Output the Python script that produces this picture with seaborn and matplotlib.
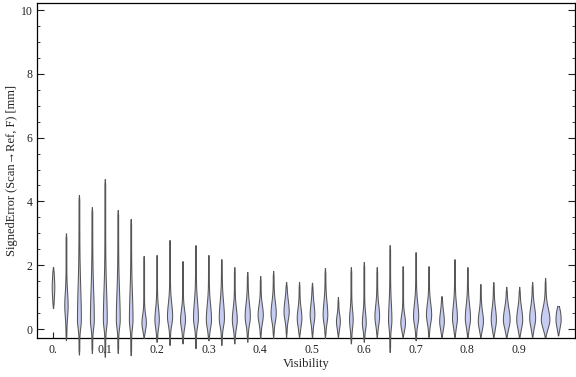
import numpy as np
import matplotlib
matplotlib.use("Agg")
import matplotlib.pyplot as plt
import seaborn as sns

# ---- data (one violin per visibility bin) ----
visibility = [round(0.025 * i, 3) for i in range(40)]
lows = [0.66, -0.35, -0.80, -0.75, -0.87, -0.75, -0.82, -0.28, -0.40, -0.50,
        -0.45, -0.60, -0.35, -0.50, -0.45, -0.40, -0.28, -0.28, -0.25, -0.25,
        -0.25, -0.28, -0.25, -0.45, -0.40, -0.25, -0.72, -0.25, -0.35, -0.25,
        -0.25, -0.25, -0.25, -0.25, -0.25, -0.25, -0.25, -0.25, -0.25, -0.20]
highs = [1.94, 3.00, 4.20, 3.82, 4.70, 3.73, 3.45, 2.29, 2.32, 2.79,
         2.13, 2.63, 2.32, 2.19, 1.94, 1.79, 1.66, 1.82, 1.47, 1.47,
         1.45, 1.91, 1.00, 1.94, 2.10, 1.94, 2.63, 1.97, 2.41, 1.97,
         1.03, 2.19, 1.94, 1.41, 1.47, 1.32, 1.32, 1.47, 1.60, 0.72]
modes = [1.32, 0.75, 0.30, 0.30, 0.30, 0.30, 0.30, 0.20, 0.30, 0.40,
         0.30, 0.35, 0.30, 0.35, 0.30, 0.40, 0.45, 0.50, 0.55, 0.35,
         0.45, 0.45, 0.25, 0.30, 0.20, 0.40, 0.30, 0.20, 0.40, 0.45,
         0.25, 0.35, 0.35, 0.25, 0.30, 0.30, 0.30, 0.35, 0.30, 0.30]
# bulge half-width in units of the bin spacing (0.025)
widths = [0.07, 0.10, 0.12, 0.12, 0.12, 0.12, 0.11, 0.14, 0.14, 0.17,
          0.16, 0.16, 0.17, 0.17, 0.16, 0.17, 0.17, 0.17, 0.17, 0.15,
          0.15, 0.15, 0.12, 0.11, 0.12, 0.15, 0.10, 0.15, 0.17, 0.17,
          0.15, 0.16, 0.17, 0.17, 0.17, 0.23, 0.20, 0.20, 0.30, 0.17]
spread_up = [0.30, 0.40, 1.00, 0.90, 0.90, 0.85, 0.80, 0.25, 0.35, 0.40,
             0.30, 0.50, 0.45, 0.50, 0.35, 0.40, 0.30, 0.35, 0.35, 0.30,
             0.35, 0.40, 0.20, 0.30, 0.30, 0.35, 0.50, 0.25, 0.40, 0.35,
             0.30, 0.40, 0.40, 0.30, 0.35, 0.35, 0.35, 0.35, 0.35, 0.30]
spread_down = [0.30, 0.35, 0.25, 0.25, 0.25, 0.25, 0.25, 0.20, 0.25, 0.25,
               0.25, 0.25, 0.25, 0.25, 0.25, 0.25, 0.25, 0.25, 0.25, 0.25,
               0.25, 0.25, 0.20, 0.25, 0.20, 0.25, 0.25, 0.20, 0.25, 0.25,
               0.22, 0.25, 0.25, 0.22, 0.25, 0.25, 0.25, 0.25, 0.25, 0.22]

x_ticks = [0.0, 0.1, 0.2, 0.3, 0.4, 0.5, 0.6, 0.7, 0.8, 0.9]
x_ticklabels = ["0.", "0.1", "0.2", "0.3", "0.4", "0.5", "0.6", "0.7", "0.8", "0.9"]
y_ticks = [0, 2, 4, 6, 8, 10]

sns.set_style("ticks")
plt.rcParams["font.family"] = ["Liberation Serif", "DejaVu Serif"]

fig = plt.figure(figsize=(5.76, 3.77), dpi=100)
ax = fig.add_axes([37 / 576, 1 - 338 / 377, (575 - 37) / 576, (338 - 3) / 377])

fill_col = "#c7cdf2"
edge_col = "#555555"
step = 0.025
tail = 0.03  # tail half-width in bin spacing units

for xv, lo, hi, m, w, su, sd in zip(visibility, lows, highs, modes, widths,
                                     spread_up, spread_down):
    y = np.linspace(lo, hi, 400)
    s = np.where(y >= m, su, sd)
    bulge = w * np.exp(-0.5 * ((y - m) / s) ** 2)
    taper = np.clip(np.minimum(y - lo, hi - y) / 0.15, 0.3, 1)
    half = step * (bulge + tail * taper)
    ax.fill_betweenx(y, xv - half, xv + half, facecolor=fill_col,
                     edgecolor=edge_col, linewidth=0.75, clip_on=False, zorder=3)

ax.set_xlim(-0.0309, 1.0077)
ax.set_ylim(-0.282, 10.22)

ax.set_xticks(x_ticks)
ax.set_xticklabels(x_ticklabels)
ax.set_yticks(y_ticks)
ax.set_yticklabels([str(v) for v in y_ticks])
ax.set_yticks(np.arange(0, 10.01, 0.5), minor=True)

for side in ["left", "right", "top", "bottom"]:
    ax.spines[side].set_visible(True)
    ax.spines[side].set_color("black")
    ax.spines[side].set_linewidth(0.9)

ax.tick_params(axis="y", which="major", direction="in", length=5, width=0.8,
               left=True, right=True, labelsize=8.5, colors="#222222", pad=3)
ax.tick_params(axis="y", which="minor", direction="in", length=2.5, width=0.6,
               left=True, right=True)
ax.tick_params(axis="x", which="major", direction="in", length=4, width=0.8,
               bottom=True, top=False, labelsize=8.5, colors="#222222", pad=4)
for t in ax.get_xticklabels() + ax.get_yticklabels():
    t.set_color("#222222")

ax.set_xlabel("Visibility", fontsize=9, color="#222222", labelpad=2)
ax.set_ylabel("SignedError (Scan\u2192Ref, F) [mm]", fontsize=9,
              color="#222222", labelpad=2)

fig.savefig("out.png", dpi=100)
